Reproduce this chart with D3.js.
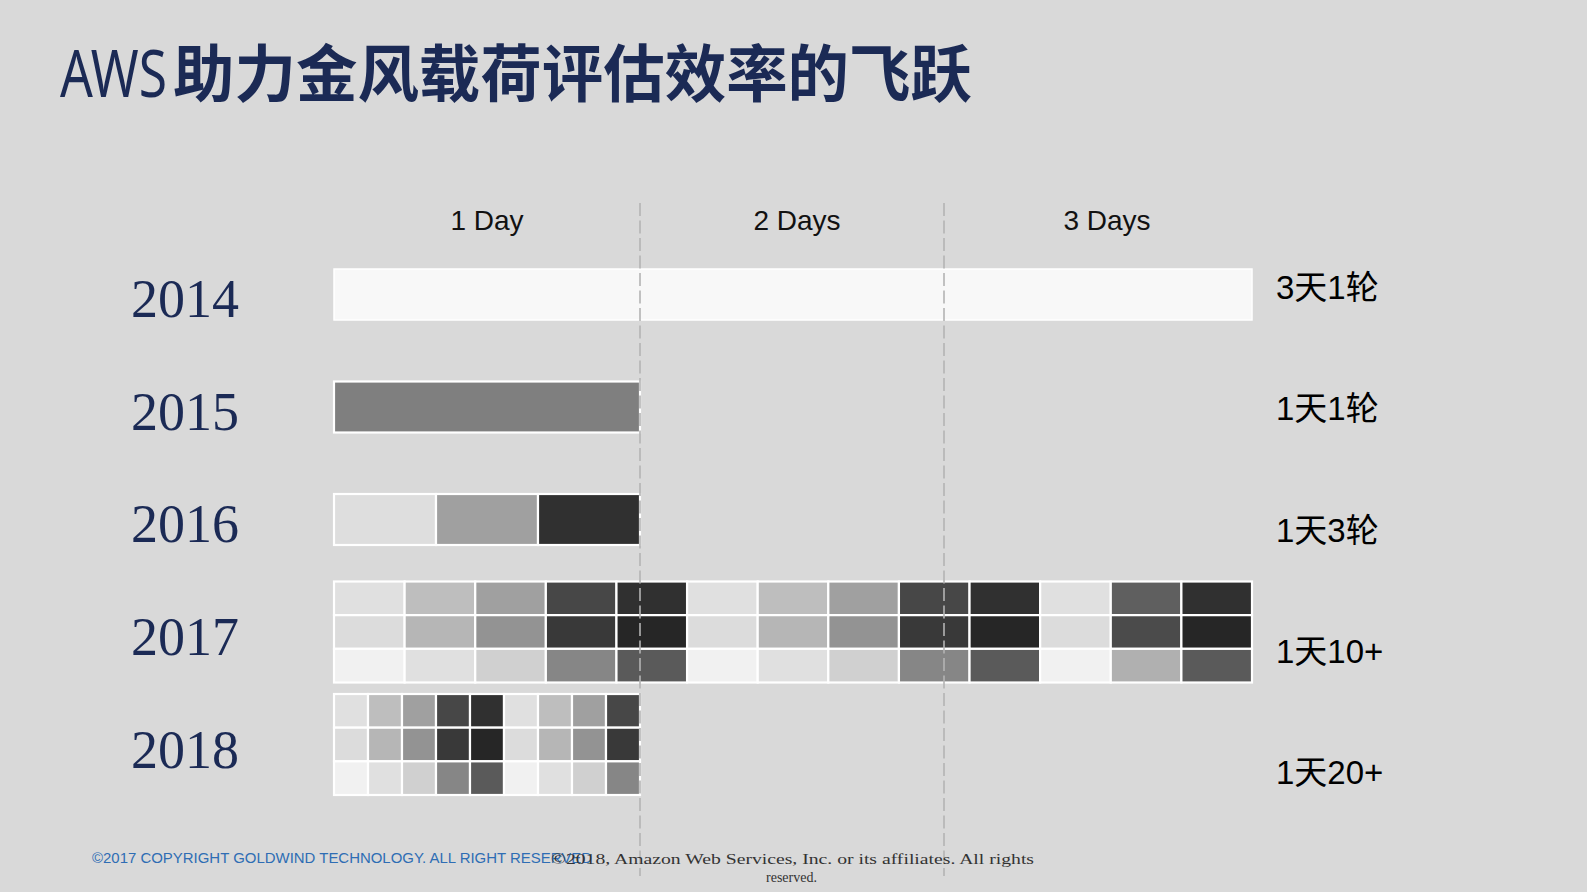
<!DOCTYPE html>
<html>
<head>
<meta charset="utf-8">
<script src="https://cdn.jsdelivr.net/npm/d3@7"></script>
<style>
  html, body { margin: 0; padding: 0; background: #d9d9d9; }
  svg { display: block; }
</style>
</head>
<body>
<script>
// ---------- data ----------
const years = ["2014", "2015", "2016", "2017", "2018"];
const spanDays = [3, 1, 1, 3, 1];
const rateLabels = ["3天1轮", "1天1轮", "1天3轮", "1天10+", "1天20+"];
const dayTicks = ["1 Day", "2 Days", "3 Days"];
// grey level (0-255) of each cell: rows x columns
const shades2014 = [[248]];
const shades2015 = [[127]];
const shades2016 = [[222, 160, 48]];
const shades2017 = [
  [224, 190, 160, 71, 48, 224, 190, 160, 71, 48, 224, 95, 48],
  [220, 182, 147, 57, 38, 220, 182, 147, 57, 38, 220, 75, 38],
  [241, 224, 208, 134, 90, 241, 224, 208, 134, 90, 241, 176, 90]
];
const shades2018 = [
  [224, 190, 160, 71, 48, 224, 190, 160, 71],
  [220, 182, 147, 57, 38, 220, 182, 147, 57],
  [241, 224, 208, 134, 90, 241, 224, 208, 134]
];
const titleLatin = "AWS";
const titleCJK = "助力金风载荷评估效率的飞跃";
const footerLeft = "©2017 COPYRIGHT GOLDWIND TECHNOLOGY. ALL RIGHT RESERVED";
const footerRight1 = "©2018, Amazon Web Services, Inc. or its affiliates. All rights";
const footerRight2 = "reserved.";

const rows = years.map((y, i) => ({
  year: y, span: spanDays[i], label: rateLabels[i],
  shades: [shades2014, shades2015, shades2016, shades2017, shades2018][i]
}));

// ---------- layout ----------
const W = 1587, H = 892;
const svg = d3.select("body").append("svg").attr("width", W).attr("height", H);
svg.append("rect").attr("width", W).attr("height", H).attr("fill", "#d9d9d9");

const navy = "#1b2a55";

// title
const aws = svg.append("g").attr("transform", "translate(60,97)")
  .append("text").attr("x", 0).attr("y", 0)
  .attr("font-family", "'Noto Sans', sans-serif").attr("font-size", 66)
  .attr("fill", navy)
  .text(titleLatin);
const awsW = aws.node().getComputedTextLength();
aws.attr("transform", `scale(${107 / awsW},1)`);

svg.append("text").attr("x", 173).attr("y", 97)
  .attr("font-family", "'Noto Sans CJK SC', sans-serif").attr("font-size", 62)
  .attr("font-weight", 700)
  .attr("fill", navy).attr("textLength", 799).attr("lengthAdjust", "spacingAndGlyphs")
  .text(titleCJK);

// scales
const x = d3.scaleLinear().domain([0, 3]).range([334, 1252]);
const yBar = d3.scaleLinear().domain([0, 4]).range([294.5, 744.5]);     // bar centres
const yYear = d3.scaleLinear().domain([0, 4]).range([316.8, 767.8]);    // year label baselines
const yRate = d3.scaleLinear().domain([0, 4]).range([299, 784]);        // rate label baselines
const singleH = 51, multiH = 101;

// top axis labels
svg.append("g").selectAll("text").data(dayTicks).join("text")
  .attr("x", (d, i) => x(i + 0.5) + i * 4)
  .attr("y", 230)
  .attr("text-anchor", "middle")
  .attr("font-family", "'Liberation Sans', Arial, sans-serif")
  .attr("font-size", 28)
  .attr("fill", "#111")
  .text(d => d);

// year labels
svg.append("g").selectAll("text").data(rows).join("text")
  .attr("x", 131)
  .attr("y", (d, i) => yYear(i))
  .attr("font-family", "'Liberation Serif', 'Times New Roman', serif")
  .attr("font-size", 54)
  .attr("fill", navy)
  .text(d => d.year);

// rate labels
svg.append("g").selectAll("text").data(rows).join("text")
  .attr("x", 1276)
  .attr("y", (d, i) => yRate(i))
  .attr("font-family", "'Liberation Sans', 'Noto Sans CJK SC', sans-serif")
  .attr("font-size", 33)
  .attr("fill", "#000")
  .text(d => d.label);

// bars made of cells
const cells = [];
rows.forEach((r, i) => {
  const nr = r.shades.length;
  const h = nr === 1 ? singleH : multiH;
  const top = yBar(i) - h / 2;
  r.shades.forEach((rowArr, ri) => {
    const nc = rowArr.length;
    rowArr.forEach((v, ci) => {
      cells.push({
        x0: x(ci * r.span / nc), x1: x((ci + 1) * r.span / nc),
        y0: top + ri * h / nr, y1: top + (ri + 1) * h / nr,
        v, thin: r.year === "2014"
      });
    });
  });
});

svg.append("g").selectAll("rect").data(cells).join("rect")
  .attr("x", d => d.x0).attr("y", d => d.y0)
  .attr("width", d => d.x1 - d.x0).attr("height", d => d.y1 - d.y0)
  .attr("fill", d => d3.rgb(d.v, d.v, d.v))
  .attr("stroke", "#ffffff")
  .attr("stroke-width", d => d.thin ? 1.5 : 2.2);

// dashed day dividers (on top)
svg.append("g").selectAll("line").data([1, 2]).join("line")
  .attr("x1", d => x(d) - (d - 1) * 2).attr("x2", d => x(d) - (d - 1) * 2)
  .attr("y1", 203).attr("y2", 876)
  .attr("stroke", "#b3b3b3").attr("stroke-width", 1.6)
  .attr("stroke-dasharray", "13,4.5");

// footers (they overlap in the original slide as well)
svg.append("text").attr("x", 92).attr("y", 863)
  .attr("font-family", "'Liberation Sans', Arial, sans-serif").attr("font-size", 15)
  .attr("fill", "#2e6db4").attr("textLength", 500).attr("lengthAdjust", "spacingAndGlyphs")
  .text(footerLeft);
svg.append("text").attr("x", 551).attr("y", 864)
  .attr("font-family", "'Liberation Serif', serif").attr("font-size", 14)
  .attr("fill", "#333").attr("textLength", 483).attr("lengthAdjust", "spacingAndGlyphs")
  .text(footerRight1);
svg.append("text").attr("x", 791.5).attr("y", 882).attr("text-anchor", "middle")
  .attr("font-family", "'Liberation Serif', serif").attr("font-size", 14)
  .attr("fill", "#333")
  .text(footerRight2);
</script>
</body>
</html>
